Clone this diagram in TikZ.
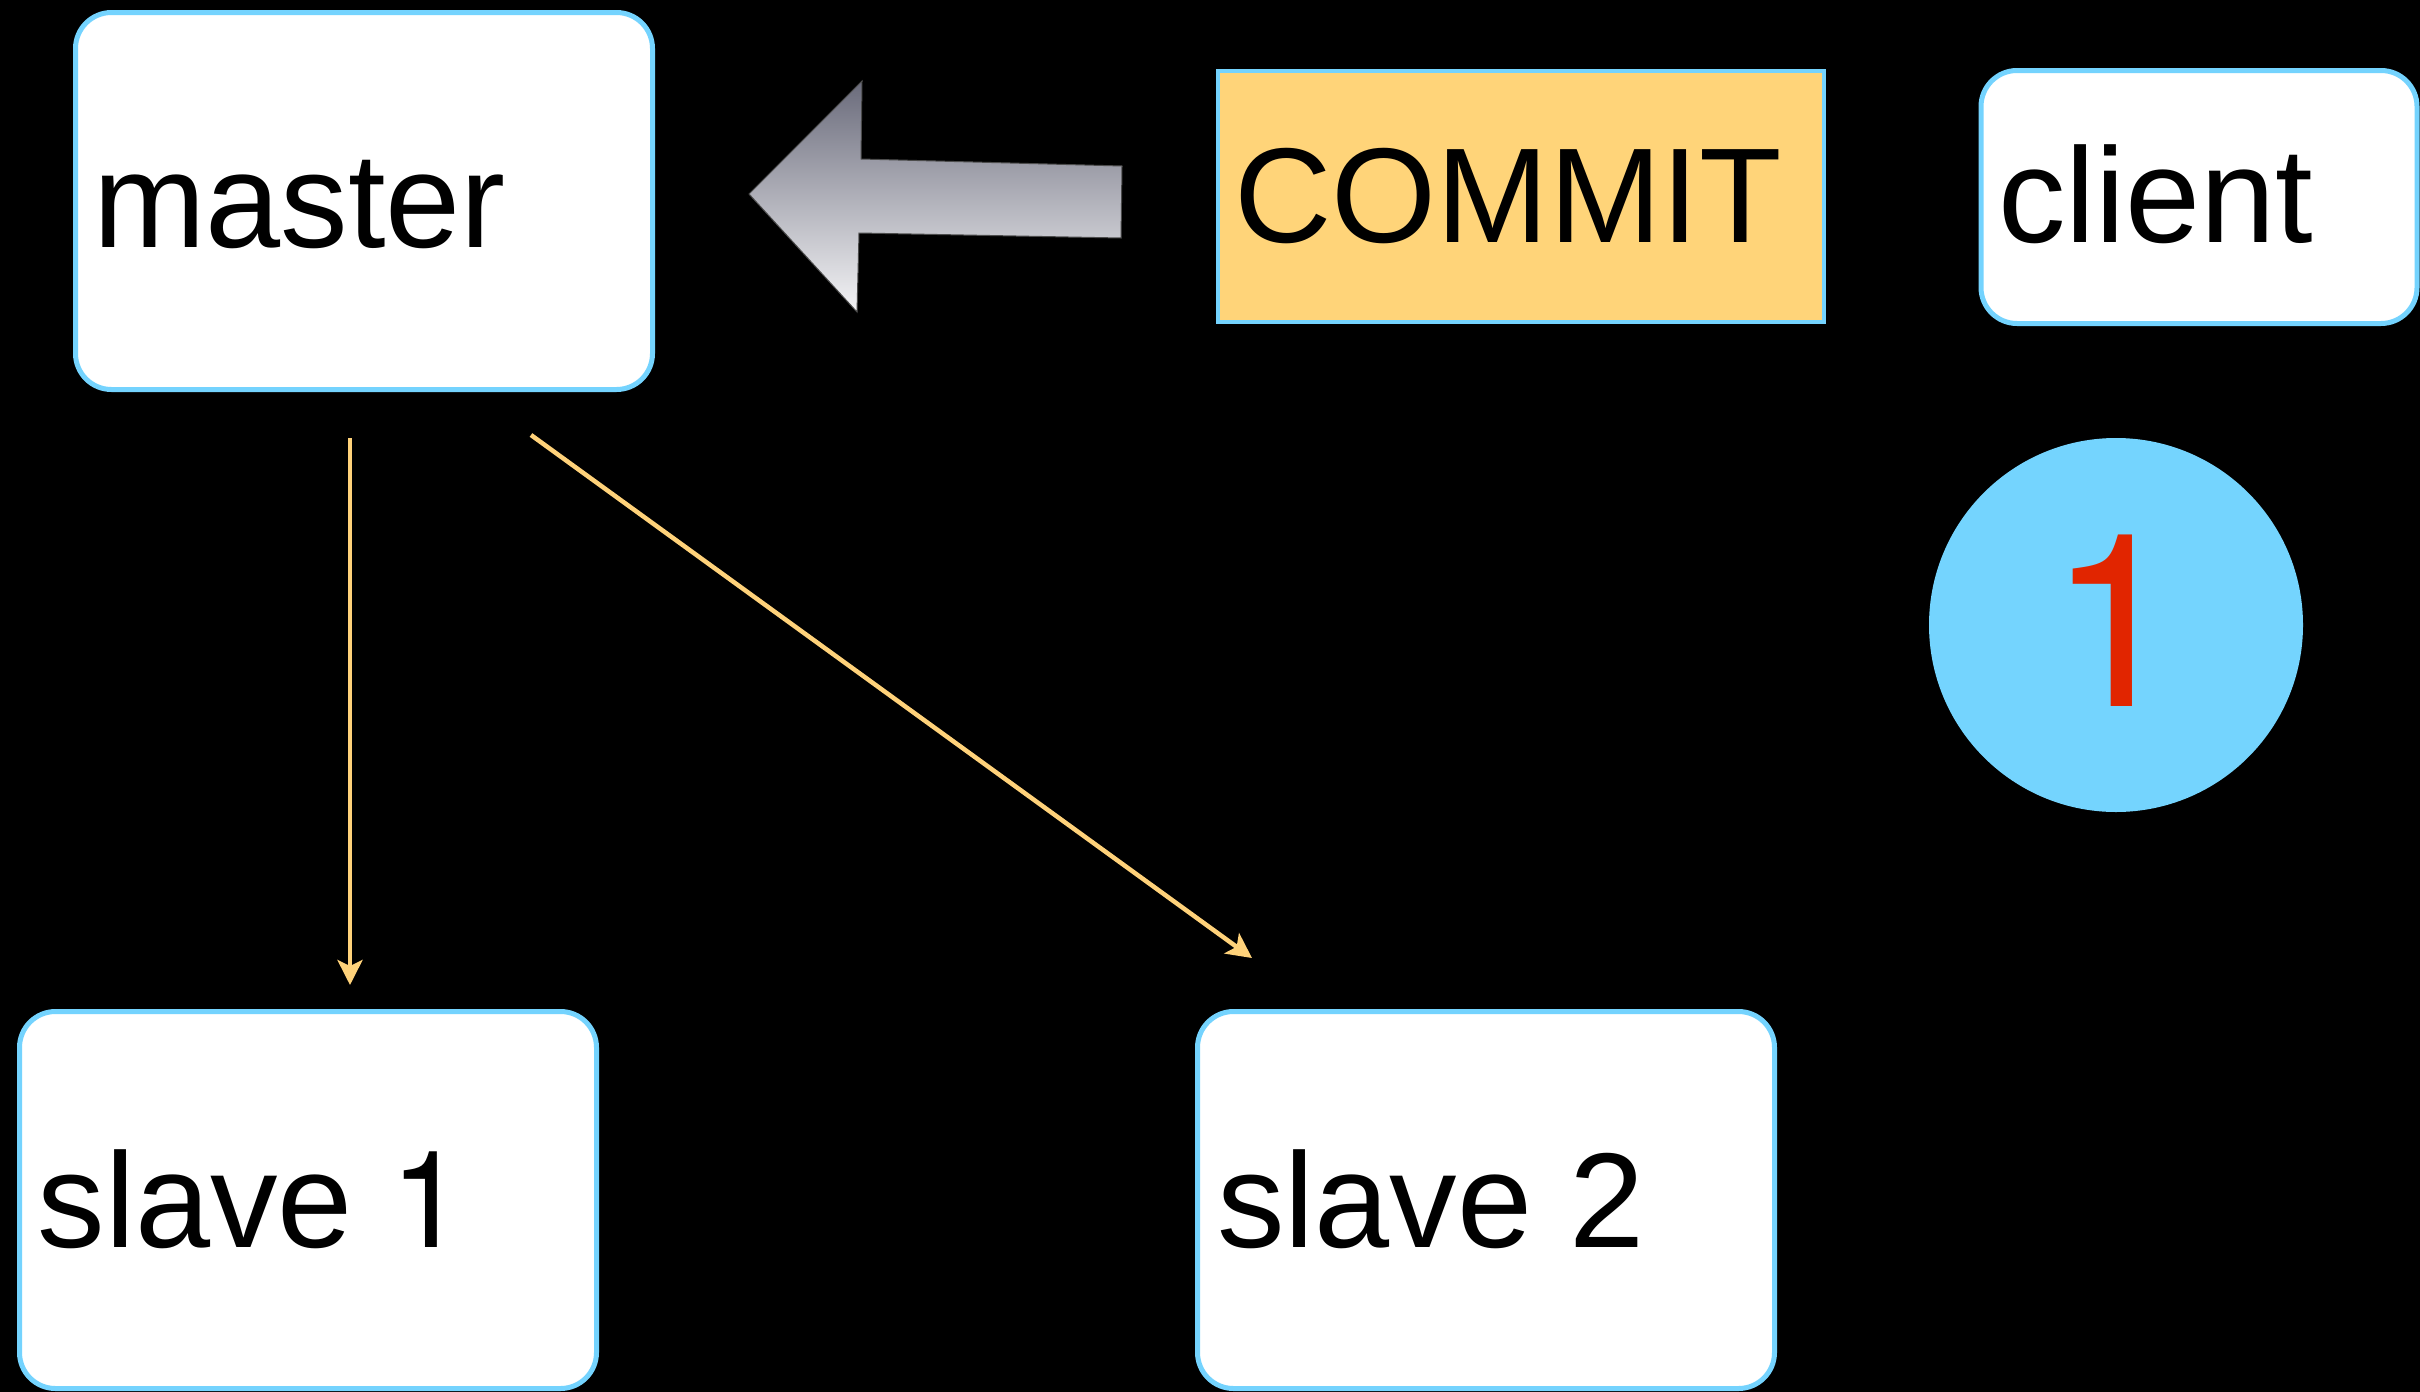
\documentclass[tikz,border=0pt]{standalone}
\usepackage{fontspec}
\setmainfont{Liberation Sans}
\newfontfamily\digitfont{TeX Gyre Heros}
\usetikzlibrary{arrows.meta}
\definecolor{bordblue}{HTML}{74D3FE}
\definecolor{commitfill}{HTML}{FFD479}
\definecolor{arrowyel}{HTML}{FFD27A}
\definecolor{numred}{HTML}{E12500}
\definecolor{circfill}{HTML}{74D4FE}
\definecolor{arrtop}{HTML}{6A6B7B}
\definecolor{arrbot}{HTML}{F4F4F6}
\begin{document}
\begin{tikzpicture}[x=1pt,y=-1pt,
  box/.style={draw=bordblue, line width=5pt, fill=white, rounded corners=36pt,
    minimum width=577pt, minimum height=377pt, inner sep=0pt},
  lbl/.style={anchor=base west, inner sep=0pt, font=\fontsize{135}{160}\selectfont},
  flow/.style={draw=arrowyel, line width=4.5pt, -{Stealth[length=25pt,width=25pt,inset=6pt]}}]
\fill[black] (0,0) rectangle (2420,1392);
\useasboundingbox (0,0) rectangle (2420,1392);
% boxes
\node[box] (master) at (364,201) {};
\node[box] (slave1) at (308,1200) {};
\node[box] (slave2) at (1486,1200) {};
\node[box, minimum width=436pt, minimum height=253pt] (client) at (2199,197) {};
\node[draw=bordblue, line width=4pt, fill=commitfill, minimum width=606pt,
  minimum height=251pt, inner sep=0pt] (commit) at (1521,196.5) {};
\node[circle, fill=circfill, minimum size=374pt, inner sep=0pt] (step1) at (2116,625) {};
% labels
\node[lbl] (mastertxt) at (93,247) {master};
\node[lbl] (committxt) at (1234,242) {COMMIT};
\node[lbl] (clienttxt) at (1998,242) {client};
\node[lbl] (slave1txt) at (37.5,1247) {slave {\digitfont 1}};
\node[lbl] (slave2txt) at (1217,1247) {slave 2};
\node[anchor=base, inner sep=0pt, text=numred, font=\digitfont\fontsize{242}{260}\selectfont] (num) at (2116,706) {1};
% big grey arrow
\shadedraw[top color=arrtop, bottom color=arrbot, draw=black!70, line width=1pt]
  (749,194) -- (862,81) -- (861,159) -- (1122,166) -- (1121,238) -- (859,233) -- (857,312) -- cycle;
% replication arrows
\coordinate (m1) at (350,438);
\coordinate (s1) at (350,985);
\coordinate (m2) at (531,435);
\coordinate (s2) at (1252,958);
\draw[flow] (m1) -- (s1);
\draw[flow] (m2) -- (s2);
\end{tikzpicture}
\end{document}
